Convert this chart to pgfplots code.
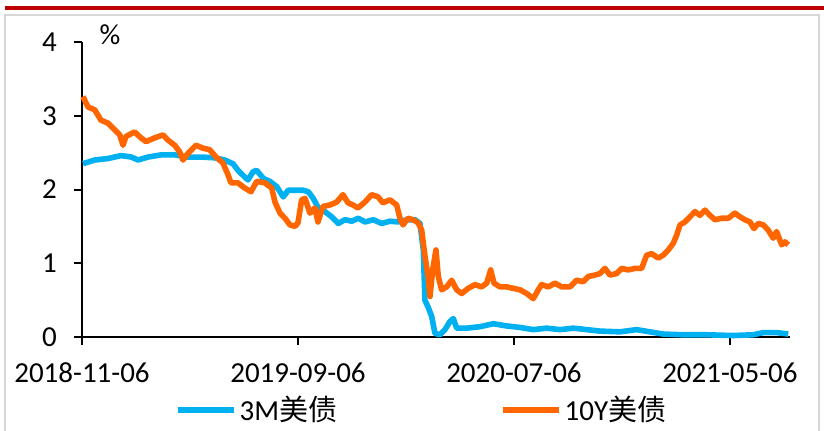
\documentclass[border=0pt]{standalone}
\usepackage{pgfplots}
\pgfplotsset{compat=1.18}
\usepackage{fontspec}
\setmainfont{Carlito}
\newfontfamily\cjk{Noto Sans CJK SC}
\definecolor{bl}{RGB}{0,176,240}
\definecolor{orng}{RGB}{255,102,0}
\definecolor{dred}{RGB}{192,0,0}
\definecolor{framegray}{RGB}{215,215,215}
\begin{document}
\begin{tikzpicture}
\useasboundingbox (-41pt,-46.5pt) rectangle (371pt,168.5pt);
\draw[framegray, line width=1pt] (-38.5pt,-60pt) rectangle (368.5pt,161pt);
\draw[dred, line width=2pt] (-38.5pt,164.5pt) -- (371pt,164.5pt);
\begin{axis}[
  scale only axis, width=353.8pt, height=147.5pt,
  at={(0,0)}, anchor=south west,
  xmin=0, xmax=996, ymin=0, ymax=4,
  axis lines=left, axis line style={line width=1pt,-},
  xtick={0,304,608,912},
  xticklabels={2018-11-06,2019-09-06,2020-07-06,2021-05-06},
  ytick={0,1,2,3,4},
  tick align=outside, major tick length=4pt,
  tick style={line width=1pt, black},
  ticklabel style={font=\fontsize{14.5}{16}\selectfont},
  yticklabel style={xshift=-5pt},
  xticklabel style={yshift=-5.5pt},
  /pgf/number format/assume math mode=true,
  clip=false,
  legend columns=2,
  legend style={at={(0.1314,-0.2475)}, anchor=west, draw=none, fill=none,
    inner sep=0pt, outer sep=0pt, font=\fontsize{14.5}{16}\selectfont,
    nodes={inner sep=1.5pt},
    /tikz/every even column/.append style={column sep=80pt}},
  legend image code/.code={\draw[#1, line width=2.8pt] (0pt,0pt) -- (28pt,0pt);},
]
\addplot[bl, line width=2.8pt, line join=round] coordinates {
(1.4,2.35)(17.9,2.40)(36.6,2.42)(55.3,2.46)(69.4,2.44)(78.8,2.40)(92.9,2.44)
(111.6,2.47)(130.5,2.47)(149.2,2.44)(167.9,2.44)(186.8,2.43)(200.8,2.40)
(212.5,2.35)(219.6,2.26)(229.0,2.17)(233.6,2.13)(240.7,2.24)(245.9,2.26)
(255.2,2.15)(264.6,2.11)(274.0,2.04)(283.3,1.90)(290.3,1.99)(299.8,1.99)
(311.5,1.99)(318.5,1.97)(325.5,1.88)(332.6,1.75)(342.0,1.70)(351.4,1.63)
(360.7,1.54)(370.1,1.59)(379.6,1.57)(388.9,1.61)(398.3,1.56)(410.0,1.59)
(421.8,1.54)(433.5,1.57)(445.2,1.56)(457.0,1.59)(468.7,1.59)(475.7,1.54)
(480.4,1.18)(482.7,0.50)(487.4,0.40)(492.2,0.28)(496.8,0.05)(503.8,0.03)
(510.9,0.10)(517.9,0.21)(522.6,0.25)(527.4,0.12)(541.4,0.12)(560.1,0.14)
(578.9,0.18)(597.7,0.15)(616.4,0.13)(635.2,0.10)(654.0,0.12)(672.7,0.10)
(691.5,0.12)(710.3,0.10)(729.0,0.08)(757.2,0.07)(780.7,0.10)(799.4,0.07)
(818.1,0.04)(846.3,0.03)(879.2,0.03)(916.6,0.02)(944.7,0.03)(958.9,0.06)
(977.7,0.06)(994.1,0.04)
};
\addlegendentry{3M{\cjk 美债}}
\addplot[orng, line width=2.8pt, line join=round] coordinates {
(1.4,3.26)(8.4,3.12)(17.9,3.08)(26.7,2.94)(36.6,2.90)(46.0,2.81)(53.1,2.74)
(57.7,2.60)(61.9,2.72)(74.2,2.78)(83.0,2.70)(90.1,2.65)(102.3,2.70)(114.0,2.74)
(121.0,2.67)(130.5,2.60)(137.5,2.51)(142.1,2.40)(149.2,2.49)(160.4,2.60)
(170.3,2.56)(179.7,2.54)(188.6,2.44)(198.4,2.36)(205.5,2.20)(209.7,2.09)
(219.6,2.09)(229.0,2.02)(237.9,1.97)(245.9,2.11)(257.6,2.09)(267.0,2.02)
(271.6,1.83)(278.7,1.68)(285.7,1.61)(292.7,1.52)(299.8,1.50)(304.0,1.55)
(309.2,1.86)(313.9,1.88)(320.9,1.68)(327.9,1.75)(332.1,1.56)(339.2,1.77)
(349.0,1.79)(358.5,1.83)(367.3,1.93)(374.4,1.82)(381.4,1.79)(388.4,1.75)
(398.3,1.83)(407.7,1.93)(416.6,1.90)(423.6,1.82)(433.5,1.86)(442.9,1.79)
(447.6,1.61)(451.8,1.52)(458.8,1.61)(465.9,1.59)(472.9,1.55)(478.1,1.45)
(482.7,1.10)(487.4,0.80)(489.8,0.55)(493.6,0.91)(498.2,1.18)(501.5,0.82)
(506.2,0.64)(513.3,0.68)(520.3,0.77)(527.4,0.64)(534.4,0.59)(543.7,0.66)
(553.1,0.71)(562.5,0.68)(569.6,0.73)(575.2,0.91)(579.9,0.73)(588.3,0.68)
(597.7,0.68)(607.0,0.66)(616.4,0.64)(625.9,0.59)(635.2,0.52)(642.2,0.64)
(647.0,0.71)(656.3,0.68)(665.7,0.73)(675.1,0.68)(686.8,0.68)(696.2,0.77)
(705.5,0.75)(712.6,0.82)(722.0,0.84)(729.0,0.86)(736.1,0.93)(743.1,0.84)
(752.5,0.86)(759.6,0.93)(768.9,0.91)(778.3,0.93)(787.7,0.93)(794.8,1.11)
(801.8,1.13)(811.1,1.07)(818.1,1.11)(825.2,1.18)(832.2,1.27)(837.0,1.38)
(841.7,1.52)(848.7,1.56)(855.8,1.63)(862.8,1.70)(869.8,1.65)(876.9,1.72)
(883.9,1.65)(890.9,1.59)(900.3,1.61)(909.6,1.61)(919.0,1.68)(926.1,1.63)
(933.1,1.59)(940.2,1.56)(945.8,1.47)(951.8,1.54)(958.9,1.52)(965.9,1.45)
(972.9,1.34)(977.7,1.43)(984.8,1.25)(989.4,1.29)(994.1,1.25)
};
\addlegendentry{10Y{\cjk 美债}}
\node[font=\fontsize{14.5}{16}\selectfont] at (rel axis cs:0,1) [xshift=14pt, yshift=3.5pt] {\%};
\end{axis}
\end{tikzpicture}
\end{document}
